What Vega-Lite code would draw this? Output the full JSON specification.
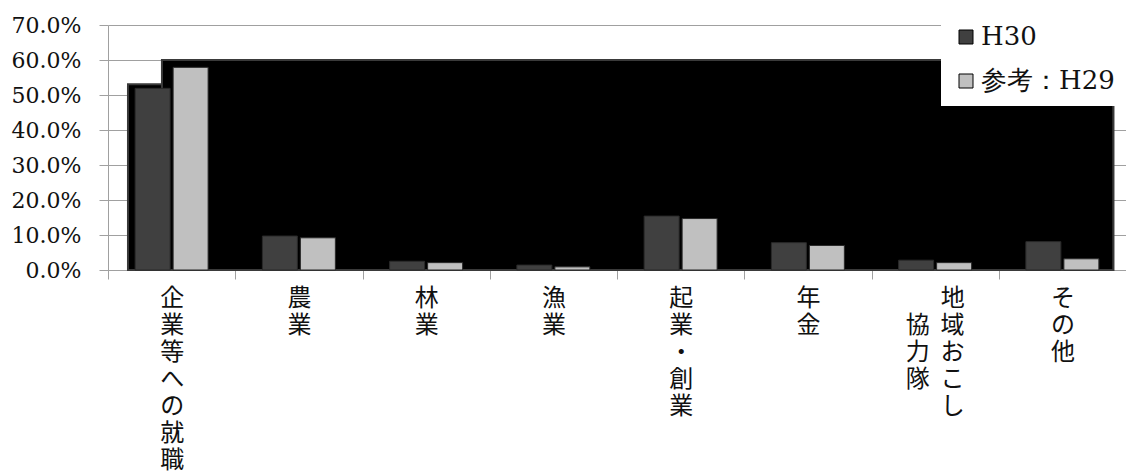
{
  "$schema": "https://vega.github.io/schema/vega-lite/v6.json",
  "width": 1018,
  "height": 245,
  "autosize": {"type": "none"},
  "padding": {"left": 108, "top": 25, "right": 0, "bottom": 202},
  "background": "white",
  "config": {
    "view": {"stroke": null}
  },
  "layer": [
    {
      "data": {"values": [{}]},
      "mark": {"type": "rect", "color": "black", "stroke": "#3a3a3a", "strokeWidth": 2},
      "encoding": {
        "x": {"datum": 0.157, "type": "quantitative", "scale": {"domain": [0, 8], "nice": false, "zero": true}, "axis": null},
        "x2": {"datum": 7.9},
        "y": {
          "datum": 0, "type": "quantitative",
          "scale": {"domain": [0, 0.7], "nice": false},
          "axis": {
            "title": null, "format": ".1%", "values": [0, 0.1, 0.2, 0.3, 0.4, 0.5, 0.6, 0.7], "grid": true,
            "labelFont": "DejaVu Serif", "labelFontSize": 22, "labelColor": "#111111", "labelOverlap": false,
            "tickSize": 9, "tickColor": "#a0a0a0", "domainColor": "#a0a0a0", "gridColor": "#a0a0a0", "labelPadding": 18
          }
        },
        "y2": {"datum": 0.531}
      }
    },
    {
      "data": {"values": [{}]},
      "mark": {"type": "rect", "color": "black", "stroke": "#3a3a3a", "strokeWidth": 2},
      "encoding": {
        "x": {"datum": 0.424, "type": "quantitative", "scale": {"domain": [0, 8], "nice": false, "zero": true}, "axis": null},
        "x2": {"datum": 7.9},
        "y": {
          "datum": 0, "type": "quantitative",
          "axis": {
            "title": null, "format": ".1%", "values": [0, 0.1, 0.2, 0.3, 0.4, 0.5, 0.6, 0.7], "grid": true,
            "labelFont": "DejaVu Serif", "labelFontSize": 22, "labelColor": "#111111", "labelOverlap": false,
            "tickSize": 9, "tickColor": "#a0a0a0", "domainColor": "#a0a0a0", "gridColor": "#a0a0a0", "labelPadding": 18
          }
        },
        "y2": {"datum": 0.6}
      }
    },
    {
      "data": {
        "values": [
          {"category": "企業等への就職", "year": "H30", "value": 0.519},
          {"category": "企業等への就職", "year": "参考：H29", "value": 0.579},
          {"category": "農業", "year": "H30", "value": 0.097},
          {"category": "農業", "year": "参考：H29", "value": 0.092},
          {"category": "林業", "year": "H30", "value": 0.025},
          {"category": "林業", "year": "参考：H29", "value": 0.021},
          {"category": "漁業", "year": "H30", "value": 0.014},
          {"category": "漁業", "year": "参考：H29", "value": 0.009},
          {"category": "起業・創業", "year": "H30", "value": 0.154},
          {"category": "起業・創業", "year": "参考：H29", "value": 0.147},
          {"category": "年金", "year": "H30", "value": 0.078},
          {"category": "年金", "year": "参考：H29", "value": 0.070},
          {"category": "地域おこし協力隊", "year": "H30", "value": 0.028},
          {"category": "地域おこし協力隊", "year": "参考：H29", "value": 0.021},
          {"category": "その他", "year": "H30", "value": 0.081},
          {"category": "その他", "year": "参考：H29", "value": 0.032}
        ]
      },
      "mark": {"type": "bar", "stroke": "#2a2a2a", "strokeWidth": 1},
      "encoding": {
        "x": {
          "field": "category",
          "type": "nominal",
          "sort": null,
          "scale": {"paddingInner": 0, "paddingOuter": 0},
          "axis": {
            "title": null,
            "labelAngle": 0,
            "tickBand": "extent",
            "labelExpr": "datum.value == '地域おこし協力隊' ? ['地', '協\u00a0\u00a0域', '力\u00a0\u00a0お', '隊\u00a0\u00a0こ', 'し'] : split(datum.label, '')",
            "labelFont": "Noto Sans CJK JP",
            "labelFontSize": 24,
            "labelLineHeight": 27,
            "labelBaseline": "top",
            "labelAlign": {"condition": {"test": "datum.value == '地域おこし協力隊'", "value": "right"}, "value": "center"},
            "labelOffset": {"condition": {"test": "datum.value == '地域おこし協力隊'", "value": 29}, "value": 0},
            "labelPadding": 7,
            "labelOverlap": false,
            "labelBound": false,
            "labelColor": "#111111",
            "tickSize": 9,
            "tickColor": "#a0a0a0",
            "domainColor": "#a0a0a0",
            "grid": false
          }
        },
        "xOffset": {
          "field": "year",
          "type": "nominal",
          "sort": ["H30", "参考：H29"],
          "scale": {"paddingInner": 0.079, "paddingOuter": 0.714}
        },
        "y": {
          "field": "value",
          "type": "quantitative",
          "axis": {
            "title": null, "format": ".1%", "values": [0, 0.1, 0.2, 0.3, 0.4, 0.5, 0.6, 0.7], "grid": true,
            "labelFont": "DejaVu Serif", "labelFontSize": 22, "labelColor": "#111111", "labelOverlap": false,
            "tickSize": 9, "tickColor": "#a0a0a0", "domainColor": "#a0a0a0", "gridColor": "#a0a0a0", "labelPadding": 18
          }
        },
        "color": {
          "field": "year",
          "type": "nominal",
          "sort": ["H30", "参考：H29"],
          "scale": {"range": ["#404040", "#c0c0c0"]},
          "legend": {
            "title": null,
            "orient": "none",
            "legendX": 833,
            "legendY": -13,
            "fillColor": "white",
            "padding": 12,
            "symbolType": "square",
            "symbolSize": 196,
            "symbolStrokeColor": "#000000",
            "symbolStrokeWidth": 1,
            "labelFont": "DejaVu Serif",
            "labelFontSize": 26,
            "labelColor": "#111111",
            "labelOffset": 2,
            "rowPadding": 18
          }
        }
      }
    }
  ],
  "resolve": {"scale": {"x": "independent"}}
}
